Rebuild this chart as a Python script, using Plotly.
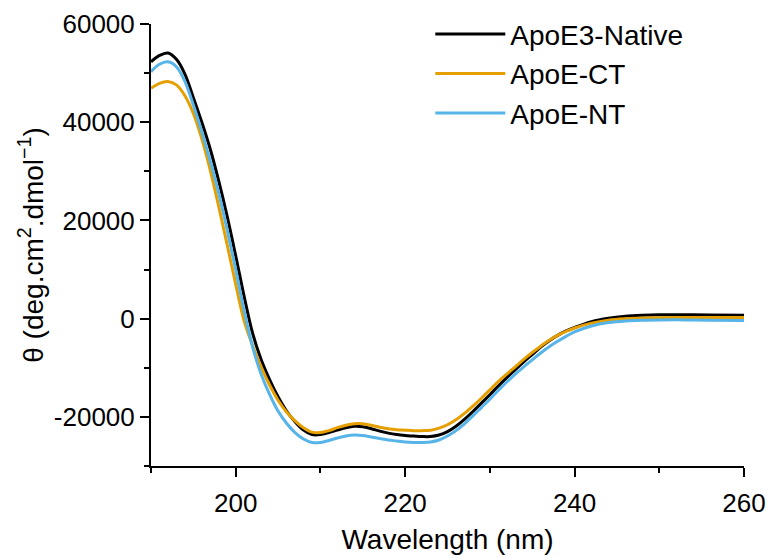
import plotly.graph_objects as go

wavelength = [190,191,192,193,194,195,196,197,198,199,200,201,202,203,204,205,206,207,208,209,
              210,211,212,213,214,215,216,217,218,219,220,221,222,223,224,225,226,227,228,229,
              230,231,232,233,234,235,236,237,238,239,240,242,244,246,248,250,253,256,260]

native = [52300,53600,54100,52800,49800,45000,40000,34500,28000,20800,12800,4500,-3000,-8300,-12400,-15900,-18800,-21000,-22700,-23600,
          -23600,-23200,-22700,-22200,-21900,-22000,-22400,-22900,-23300,-23600,-23800,-23900,-24000,-24000,-23700,-23000,-21900,-20500,-18900,-17200,
          -15500,-13700,-12000,-10400,-8800,-7300,-5800,-4500,-3400,-2500,-1800,-600,100,500,700,800,800,750,700]

ct = [46900,47900,48300,47600,45400,41800,36600,30200,22800,15000,7000,-500,-5500,-9800,-13500,-16600,-19000,-20800,-22200,-23100,
      -23200,-22800,-22200,-21700,-21400,-21400,-21700,-22100,-22400,-22600,-22700,-22800,-22800,-22700,-22300,-21600,-20600,-19300,-17800,-16200,
      -14500,-12800,-11300,-9800,-8300,-6900,-5600,-4400,-3400,-2600,-1900,-900,-300,0,150,200,250,250,250]

nt = [50300,51800,52300,51300,48300,43500,38000,32000,25500,18000,10000,1500,-5800,-11300,-15400,-18800,-21300,-23200,-24500,-25200,
      -25200,-24800,-24300,-23900,-23700,-23800,-24100,-24400,-24700,-24900,-25100,-25200,-25200,-25100,-24700,-23900,-22800,-21400,-19800,-18100,
      -16400,-14600,-12900,-11300,-9800,-8400,-7000,-5700,-4600,-3600,-2700,-1500,-800,-450,-300,-250,-250,-300,-350]

series_names = ["ApoE3-Native", "ApoE-CT", "ApoE-NT"]
series_colors = ["#000000", "#E69F00", "#56B4E9"]

x_tick_vals = [200, 220, 240, 260]
x_tick_text = ["200", "220", "240", "260"]
y_tick_vals = [-20000, 0, 20000, 40000, 60000]
y_tick_text = ["-20000", "0", "20000", "40000", "60000"]

FONT = "Liberation Sans, Arial, sans-serif"

fig = go.Figure()
for name, ys, col in zip(series_names, [native, ct, nt], series_colors):
    fig.add_trace(go.Scatter(x=wavelength, y=ys, mode="lines", name=name,
                             line=dict(color=col, width=3, shape="spline", smoothing=1)))

fig.update_layout(
    width=769, height=558,
    margin=dict(l=151, r=25, t=24, b=92, autoexpand=False),
    paper_bgcolor="white", plot_bgcolor="white",
    font=dict(family=FONT, size=26, color="black"),
    showlegend=True,
    legend=dict(x=0.471, y=1.033, xanchor="left", yanchor="top",
                bgcolor="rgba(0,0,0,0)", font=dict(size=28, family=FONT),
                itemwidth=70, tracegroupgap=0),
    xaxis=dict(range=[190, 260], showgrid=False, zeroline=False, automargin=False,
               showline=True, linecolor="black", linewidth=2,
               ticks="outside", ticklen=9, tickwidth=2, tickcolor="black",
               tickvals=x_tick_vals, ticktext=x_tick_text, ticklabelstandoff=4,
               minor=dict(dtick=10, tick0=190, ticks="outside", ticklen=5, tickwidth=2, tickcolor="black"),
               title=dict(text="Wavelength (nm)", font=dict(size=28), standoff=12),
               tickfont=dict(size=26)),
    yaxis=dict(range=[-30000, 60000], showgrid=False, zeroline=False, automargin=False,
               showline=True, linecolor="black", linewidth=2,
               ticks="outside", ticklen=9, tickwidth=2, tickcolor="black",
               tickvals=y_tick_vals, ticktext=y_tick_text,
               minor=dict(dtick=10000, tick0=-30000, ticks="outside", ticklen=5, tickwidth=2, tickcolor="black"),
               title=dict(text="θ (deg.cm<sup>2</sup>.dmol<sup>−1</sup>)", font=dict(size=28), standoff=2),
               tickfont=dict(size=26)),
)

fig.write_html("out.html")
